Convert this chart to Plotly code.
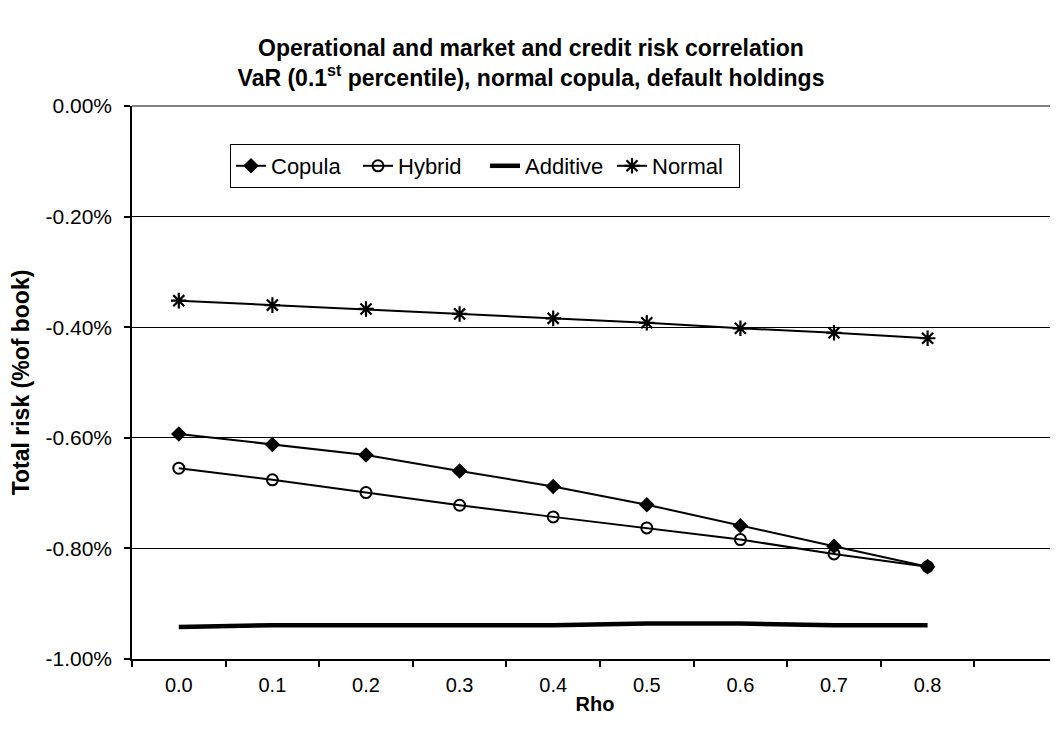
import plotly.graph_objects as go

rho = [0.0, 0.1, 0.2, 0.3, 0.4, 0.5, 0.6, 0.7, 0.8]
rho_labels = ["0.0", "0.1", "0.2", "0.3", "0.4", "0.5", "0.6", "0.7", "0.8"]
copula = [-0.593, -0.612, -0.631, -0.660, -0.688, -0.721, -0.759, -0.796, -0.833]
hybrid = [-0.655, -0.676, -0.699, -0.722, -0.743, -0.763, -0.784, -0.810, -0.833]
additive = [-0.942, -0.939, -0.939, -0.939, -0.939, -0.936, -0.936, -0.939, -0.939]
normal = [-0.352, -0.360, -0.367, -0.376, -0.384, -0.392, -0.402, -0.410, -0.420]
y_ticks = [0.0, -0.2, -0.4, -0.6, -0.8, -1.0]
y_tick_labels = ["0.00%", "-0.20%", "-0.40%", "-0.60%", "-0.80%", "-1.00%"]

idx = list(range(len(rho)))
FONT = "Liberation Sans, Arial, sans-serif"

fig = go.Figure()
fig.add_trace(go.Scatter(x=idx, y=copula, name="Copula", mode="lines+markers",
                         line=dict(color="black", width=2),
                         marker=dict(symbol="diamond", size=12, color="black")))
fig.add_trace(go.Scatter(x=idx, y=hybrid, name="Hybrid", mode="lines+markers",
                         line=dict(color="black", width=2),
                         marker=dict(symbol="circle-open", size=11, color="black",
                                     line=dict(width=2, color="black"))))
fig.add_trace(go.Scatter(x=idx, y=additive, name="Additive", mode="lines",
                         line=dict(color="black", width=4.5)))
fig.add_trace(go.Scatter(x=idx, y=normal, name="Normal", mode="lines+markers",
                         line=dict(color="black", width=2),
                         marker=dict(symbol="asterisk-open", size=13, color="black",
                                     line=dict(width=2.2, color="black"))))

W, H = 1050, 727
L, T, B = 124, 98, 76

fig.update_layout(
    width=W, height=H,
    paper_bgcolor="white", plot_bgcolor="white",
    margin=dict(l=L, r=0, t=T, b=B, pad=0),
    font=dict(family=FONT, color="black", size=20),
    title=dict(
        text="<b>Operational and market and credit risk correlation<br>"
             "VaR (0.1<sup>st</sup> percentile), normal copula, default holdings</b>",
        x=523 / W, xanchor="center", xref="container",
        y=1 - 48 / H, yanchor="middle", yref="container",
        font=dict(size=23, family=FONT, color="black"),
    ),
    showlegend=True,
    legend=dict(
        orientation="h", x=(222 - L) / (W - L), xanchor="left",
        y=(H - B - 136) / (H - B - T), yanchor="top",
        bordercolor="black", borderwidth=1, bgcolor="white",
        font=dict(size=22, family=FONT, color="black"),
        itemwidth=30, tracegroupgap=0,
        entrywidth=82, entrywidthmode="pixels",
    ),
    xaxis=dict(
        range=[-0.5, (W - L) / 93.6 - 0.5],
        tickmode="array", tickvals=idx, ticktext=rho_labels,
        ticks="", showgrid=False, zeroline=False,
        showline=True, linecolor="black", linewidth=1.5,
        tickfont=dict(size=20, family=FONT),
        ticklabelstandoff=7,
        minor=dict(tick0=-0.5, dtick=1, ticks="outside", ticklen=6,
                   tickcolor="black", tickwidth=1.5, showgrid=False),
        title=dict(text="<b>Rho</b>", font=dict(size=20, family=FONT), standoff=2),
    ),
    yaxis=dict(
        range=[-1.0, 0.0],
        tickmode="array", tickvals=y_ticks, ticktext=y_tick_labels,
        ticks="outside", ticklen=6, tickcolor="black", tickwidth=1.5,
        showline=True, linecolor="black", linewidth=1.5,
        showgrid=True, gridcolor="black", gridwidth=1,
        zeroline=True, zerolinecolor="#808080", zerolinewidth=2,
        tickfont=dict(size=21, family=FONT),
        ticklabelstandoff=8,
        title=dict(text="<b>Total risk (%of book)</b>", font=dict(size=23, family=FONT),
                   standoff=10),
    ),
)

fig.write_html("out.html")
